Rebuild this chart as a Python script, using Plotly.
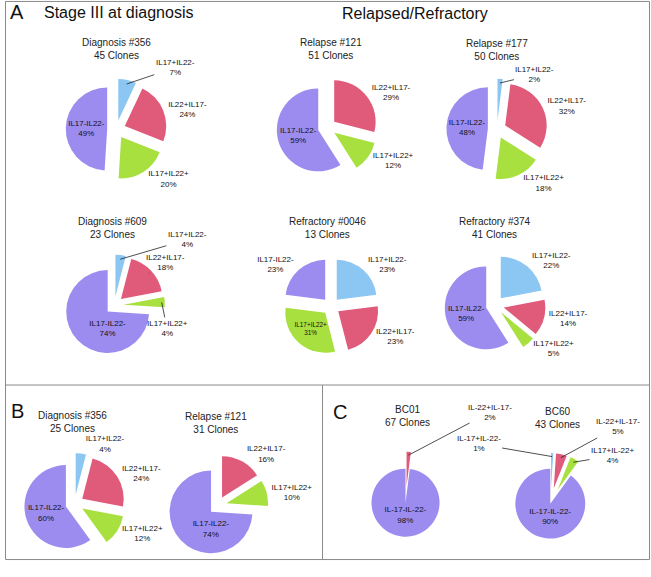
import math
import plotly.graph_objects as go

W, H = 651, 577

# ---- data ----
categories = ["IL17+IL22-", "IL22+IL17-", "IL17+IL22+", "IL17-IL22-"]
categories_c = ["IL-17+IL-22-", "IL-22+IL-17-", "IL17+IL-22+", "IL-17-IL-22-"]

titles = [
    "Diagnosis #356<br>45 Clones", "Relapse #121<br>51 Clones", "Relapse #177<br>50 Clones",
    "Diagnosis #609<br>23 Clones", "Refractory #0046<br>13 Clones", "Refractory #374<br>41 Clones",
    "Diagnosis #356<br>25 Clones", "Relapse #121<br>31 Clones",
    "BC01<br>67 Clones", "BC60<br>43 Clones",
]
diag356_a = [7, 24, 20, 49]
relapse121_a = [0, 29, 12, 59]
relapse177_a = [2, 32, 18, 48]
diag609_a = [4, 18, 4, 74]
refr0046_a = [23, 23, 31, 23]
refr374_a = [22, 14, 5, 59]
diag356_b = [4, 24, 12, 60]
relapse121_b = [0, 16, 10, 74]
bc01_c = [0, 2, 0, 98]
bc60_c = [1, 5, 4, 90]

# ---- styling / layout ----
colors = ["#8cc6f3", "#e05a7a", "#a8e03f", "#9d8cf0"]
FONT = "Liberation Sans, Arial, sans-serif"
TXT = dict(family=FONT, size=8, color="#111111")
P = 0.22
O, I = "outside", "inside"

# values, labels, centre px, size px, pulls, text positions, title centre px,
# callout label positions (slice index -> label centre px) drawn with leader lines
pies = [
    (diag356_a, categories, (113, 133), 104, [P] * 4, [O, O, O, I], (113, 50), {0: (172, 70)}),
    (relapse121_a, categories, (325, 131), 104, [P] * 4, [O, O, O, I], (329, 50), {}),
    (relapse177_a, categories, (496, 133), 104, [P] * 4, [O, O, O, I], (496, 51), {0: (534, 77)}),
    (diag609_a, categories, (111, 314), 104, [P] * 4, [O, O, O, I], (109, 234),
     {0: (184, 247), 1: (162, 270), 2: (164, 337)}),
    (refr0046_a, categories, (329, 315), 100, [P] * 4, [O, O, I, O], (326, 234), {}),
    (refr374_a, categories, (494, 314), 104, [P] * 4, [O, O, O, I], (494, 234), {}),
    (diag356_b, categories, (71, 518), 104, [P] * 4, [O, O, O, I], (69, 434), {}),
    (relapse121_b, categories, (215, 520), 104, [P] * 4, [O, O, O, I], (213, 435), {}),
    (bc01_c, categories_c, (404, 517), 105, [0.5, 0.5, 0.5, 0.0], [O, O, O, I], (406, 428),
     {1: (489, 425)}),
    (bc60_c, categories_c, (550, 517), 102, [0.42, 0.42, 0.42, 0.03], [O, O, O, I], (557, 430),
     {0: (478, 457), 1: (617, 440), 2: (612, 469)}),
]

fig = go.Figure()
annotations = []
for (vals, cats, (cx, cy), size, pull, tpos, (tx, ty), callouts), title in zip(pies, titles):
    keep = [i for i, v in enumerate(vals) if v > 0]
    x0, x1 = (cx - size / 2) / W, (cx + size / 2) / W
    y0, y1 = 1 - (cy + size / 2) / H, 1 - (cy - size / 2) / H
    positions = ["none" if i in callouts else tpos[i] for i in keep]
    fig.add_trace(go.Pie(
        values=[vals[i] for i in keep],
        labels=[cats[i] for i in keep],
        text=[f"{cats[i]}<br>{vals[i]}%" for i in keep],
        textinfo="text",
        textposition=positions,
        insidetextorientation="horizontal",
        pull=[pull[i] for i in keep],
        marker=dict(colors=[colors[i] for i in keep], line=dict(width=0)),
        sort=False, direction="clockwise", rotation=0,
        domain=dict(x=[x0, x1], y=[y0, y1]),
        textfont=TXT, insidetextfont=TXT, outsidetextfont=TXT,
        hoverinfo="label+percent",
        showlegend=False,
    ))
    # leader-line callouts: arrow head at the slice edge, computed from the data
    total = sum(vals)
    maxpull = max(pull[i] for i in keep)
    r = size / (2 + 2 * maxpull)
    cum = 0
    for i, v in enumerate(vals):
        if i in callouts and v > 0:
            theta = 2 * math.pi * (cum + v / 2) / total
            d = r * pull[i] + r * 0.9
            hx, hy = cx + d * math.sin(theta), cy - d * math.cos(theta)
            lx, ly = callouts[i]
            annotations.append(dict(
                x=hx / W, y=1 - hy / H, ax=lx - hx, ay=ly - hy,
                xref="paper", yref="paper",
                text=f"{cats[i]}<br>{v}%", showarrow=True, arrowhead=0,
                arrowwidth=0.8, arrowcolor="#222222", standoff=0, startstandoff=0,
                font=TXT,
            ))
        cum += v
    annotations.append(dict(
        x=tx / W, y=1 - ty / H, xref="paper", yref="paper",
        text=title, showarrow=False, xanchor="center", yanchor="middle",
        font=dict(family=FONT, size=10, color="#222222"),
    ))

# panel headings
for txt, x, y, sz in [("A", 13, 12, 20), ("B", 14, 423, 20), ("C", 338, 424, 20)]:
    annotations.append(dict(x=x / W, y=1 - y / H, xref="paper", yref="paper", text=txt,
                            showarrow=False, xanchor="center", yanchor="middle",
                            font=dict(family=FONT, size=sz, color="#111111")))
for txt, x, y in [("Stage III at diagnosis", 115, 13), ("Relapsed/Refractory", 414, 14)]:
    annotations.append(dict(x=x / W, y=1 - y / H, xref="paper", yref="paper", text=txt,
                            showarrow=False, xanchor="center", yanchor="middle",
                            font=dict(family=FONT, size=16, color="#111111")))

line = dict(color="#8a8a8a", width=1)
shapes = [
    dict(type="rect", xref="paper", yref="paper", x0=1.5 / W, x1=649.5 / W, y0=1 - 575.5 / H, y1=1 - 1.5 / H, line=line),
    dict(type="line", xref="paper", yref="paper", x0=1.5 / W, x1=649.5 / W, y0=1 - 396 / H, y1=1 - 396 / H, line=line),
    dict(type="line", xref="paper", yref="paper", x0=320.5 / W, x1=320.5 / W, y0=1 - 575.5 / H, y1=1 - 396 / H, line=line),
]

fig.update_layout(
    width=W, height=H, margin=dict(l=0, r=0, t=0, b=0),
    paper_bgcolor="white", plot_bgcolor="white",
    annotations=annotations, shapes=shapes,
    font=dict(family=FONT),
)
fig.write_html(
    "out.html",
    config={"displayModeBar": False},
    post_script=(
        "document.body.style.margin='0';"
        "var d=document.getElementById('{plot_id}');"
        "d.style.position='fixed';d.style.left='0px';d.style.top='0px';"
    ),
)
